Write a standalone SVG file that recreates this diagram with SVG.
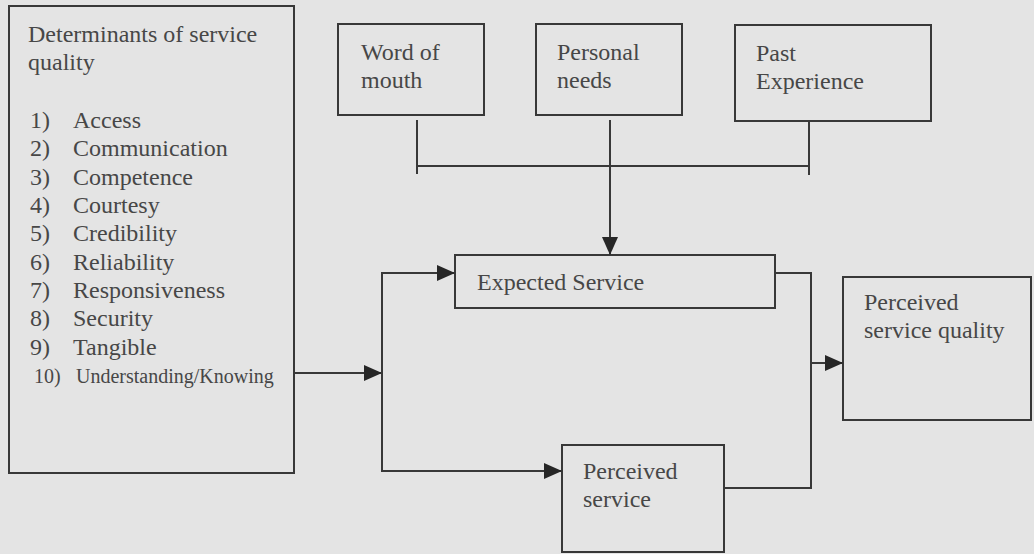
<svg xmlns="http://www.w3.org/2000/svg" width="1034" height="554" viewBox="0 0 1034 554">
  <style>
    .box { fill: none; stroke: #383838; stroke-width: 2; }
    .wire { fill: none; stroke: #383838; stroke-width: 2; }
    .lbl { font-family: "Liberation Serif", "Times New Roman", serif; font-size: 24px; fill: #474747; }
    .sm { font-size: 20px; }
  </style>
  <defs>
    <marker id="arrow" markerUnits="userSpaceOnUse" markerWidth="18" markerHeight="16" refX="18" refY="8" orient="auto">
      <path d="M0,0 L18,8 L0,16 z" fill="#262626"/>
    </marker>
  </defs>

  <rect width="1034" height="554" fill="#e4e4e4"/>

  <!-- determinants list -->
  <g id="determinants">
    <rect class="box" x="9" y="6" width="285" height="467"/>
    <text class="lbl" x="28" y="42">Determinants of service</text>
    <text class="lbl" x="28" y="70">quality</text>
    <text class="lbl" x="30" y="128">1)</text><text class="lbl" x="73" y="128">Access</text>
    <text class="lbl" x="30" y="156">2)</text><text class="lbl" x="73" y="156">Communication</text>
    <text class="lbl" x="30" y="185">3)</text><text class="lbl" x="73" y="185">Competence</text>
    <text class="lbl" x="30" y="213">4)</text><text class="lbl" x="73" y="213">Courtesy</text>
    <text class="lbl" x="30" y="241">5)</text><text class="lbl" x="73" y="241">Credibility</text>
    <text class="lbl" x="30" y="270">6)</text><text class="lbl" x="73" y="270">Reliability</text>
    <text class="lbl" x="30" y="298">7)</text><text class="lbl" x="73" y="298">Responsiveness</text>
    <text class="lbl" x="30" y="326">8)</text><text class="lbl" x="73" y="326">Security</text>
    <text class="lbl" x="30" y="355">9)</text><text class="lbl" x="73" y="355">Tangible</text>
    <text class="lbl sm" x="34" y="383">10)</text><text class="lbl sm" x="76" y="383">Understanding/Knowing</text>
  </g>

  <g id="word-of-mouth">
    <rect class="box" x="338" y="24" width="146" height="91"/>
    <text class="lbl" x="361" y="60">Word of</text>
    <text class="lbl" x="361" y="88">mouth</text>
  </g>

  <g id="personal-needs">
    <rect class="box" x="536" y="24" width="146" height="91"/>
    <text class="lbl" x="557" y="60">Personal</text>
    <text class="lbl" x="557" y="88">needs</text>
  </g>

  <g id="past-experience">
    <rect class="box" x="735" y="25" width="196" height="96"/>
    <text class="lbl" x="756" y="61">Past</text>
    <text class="lbl" x="756" y="89">Experience</text>
  </g>

  <g id="expected-service">
    <rect class="box" x="455" y="255" width="320" height="53"/>
    <text class="lbl" x="477" y="290">Expected Service</text>
  </g>

  <g id="perceived-service">
    <rect class="box" x="562" y="445" width="162" height="107"/>
    <text class="lbl" x="583" y="479">Perceived</text>
    <text class="lbl" x="583" y="507">service</text>
  </g>

  <g id="perceived-service-quality">
    <rect class="box" x="843" y="277" width="188" height="143"/>
    <text class="lbl" x="864" y="310">Perceived</text>
    <text class="lbl" x="864" y="338">service quality</text>
  </g>

  <g id="connectors">
    <!-- expectation sources joined by a bar -->
    <path class="wire" d="M417,120 V174"/>
    <path class="wire" d="M809,121 V175"/>
    <path class="wire" d="M417,166 H809"/>
    <path class="wire" d="M610,120 V255" marker-end="url(#arrow)"/>
    <!-- determinants feed both expected and perceived service -->
    <path class="wire" d="M294,373 H382" marker-end="url(#arrow)"/>
    <path class="wire" d="M382,373 V273 H455" marker-end="url(#arrow)"/>
    <path class="wire" d="M382,373 V471 H562" marker-end="url(#arrow)"/>
    <!-- comparison into perceived service quality -->
    <path class="wire" d="M775,273 H811 V488 H724"/>
    <path class="wire" d="M811,363 H843" marker-end="url(#arrow)"/>
  </g>
</svg>
